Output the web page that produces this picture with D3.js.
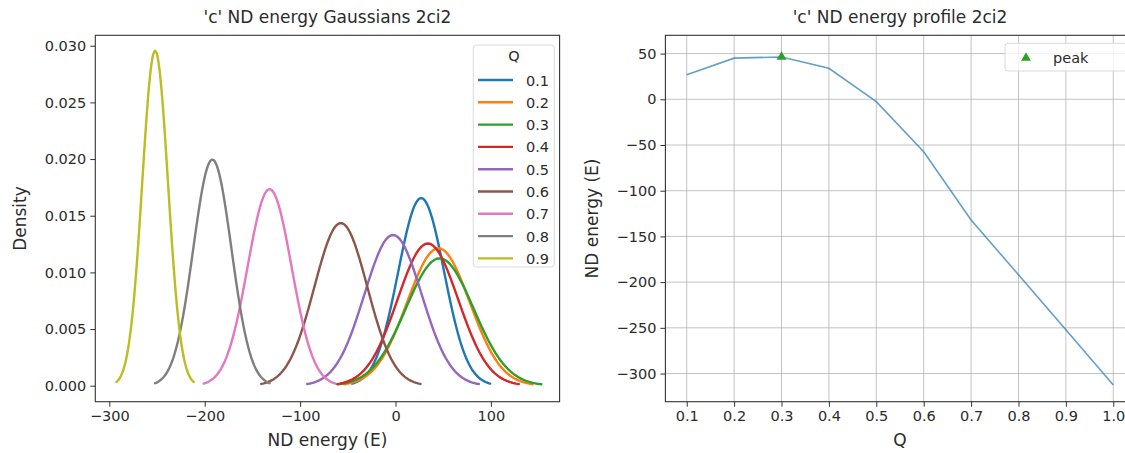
<!DOCTYPE html>
<meta charset="utf-8">
<html>
<head>
  <title>ND energy 2ci2</title>
  <style>
    body { margin: 0; background: #fff; }
    text { font-family: "DejaVu Sans", sans-serif; fill: #2b2b2b; }
  </style>
</head>
<body>
  <script src="https://d3js.org/d3.v7.js"></script>
  <div id="chart"></div>
  <script>
    // Q values that have a gaussian (legend entries)
    var qLabels = ["0.1", "0.2", "0.3", "0.4", "0.5", "0.6", "0.7", "0.8", "0.9"];
    var means = [26.9, 45.0, 46.3, 33.9, -2.6, -57.3, -132.0, -192.0, -252.0];
    var sigmas = [24.1, 32.9, 35.5, 31.8, 30.0, 27.8, 23.0, 20.0, 13.5];
    var colors = ["#1f77b4", "#ff7f0e", "#2ca02c", "#d62728", "#9467bd",
                  "#8c564b", "#e377c2", "#7f7f7f", "#bcbd22"];

    // energy profile (right panel)
    var profileQ = [0.1, 0.2, 0.3, 0.4, 0.5, 0.6, 0.7, 0.8, 0.9, 1.0];
    var profileE = [26.9, 45.0, 46.3, 33.9, -2.6, -57.3, -132.0, -192.0, -252.0, -312.6];
    var peakIndex = 2;

    var leftXTicks = [-300, -200, -100, 0, 100];
    var leftYTicks = [0, 0.005, 0.010, 0.015, 0.020, 0.025, 0.030];
    var rightXTicks = [0.1, 0.2, 0.3, 0.4, 0.5, 0.6, 0.7, 0.8, 0.9, 1.0];
    var rightYTicks = [50, 0, -50, -100, -150, -200, -250, -300];

    var W = 1125, H = 453;
    var svg = d3.select("#chart").append("svg")
      .attr("width", W).attr("height", H);

    var tickFont = "14.5px", labelFont = "17px", titleFont = "17px";
    var axisColor = "#333";

    function styleAxis(g) {
      g.select(".domain").remove();
      g.selectAll("line").attr("stroke", axisColor).attr("stroke-width", 1);
      g.selectAll("text").style("font-size", tickFont).attr("fill", "#333");
    }

    // ---------- left panel: gaussians ----------
    var L = { x0: 95.3, x1: 559.6, y0: 35.3, y1: 401.7 };
    var xL = d3.scaleLinear().domain([-314.7, 172]).range([L.x0, L.x1]);
    var yL = d3.scaleLinear().domain([-0.00141, 0.03092]).range([L.y1, L.y0]);

    function gaussian(mu, s) {
      var pts = [];
      for (var i = 0; i <= 120; i++) {
        var x = mu - 3 * s + 6 * s * i / 120;
        var y = Math.exp(-0.5 * Math.pow((x - mu) / s, 2)) / (s * Math.sqrt(2 * Math.PI));
        pts.push([x, y]);
      }
      return pts;
    }

    var lineL = d3.line().x(d => xL(d[0])).y(d => yL(d[1]));
    var gl = svg.append("g");
    qLabels.forEach(function (q, i) {
      gl.append("path")
        .attr("d", lineL(gaussian(means[i], sigmas[i])))
        .attr("fill", "none")
        .attr("stroke", colors[i])
        .attr("stroke-width", 2.4)
        .attr("stroke-linejoin", "round")
        .attr("stroke-linecap", "round");
    });

    svg.append("g")
      .attr("transform", "translate(0," + L.y1 + ")")
      .call(d3.axisBottom(xL).tickValues(leftXTicks).tickSize(5).tickPadding(4)
        .tickFormat(d => d3.format("d")(d).replace("-", "\u2212")))
      .call(styleAxis);
    svg.append("g")
      .attr("transform", "translate(" + L.x0 + ",0)")
      .call(d3.axisLeft(yL).tickValues(leftYTicks).tickSize(5).tickPadding(4)
        .tickFormat(d3.format(".3f")))
      .call(styleAxis);

    svg.append("rect")
      .attr("x", L.x0).attr("y", L.y0)
      .attr("width", L.x1 - L.x0).attr("height", L.y1 - L.y0)
      .attr("fill", "none").attr("stroke", axisColor).attr("stroke-width", 1.1);

    svg.append("text").attr("x", (L.x0 + L.x1) / 2).attr("y", 23)
      .attr("text-anchor", "middle").style("font-size", titleFont)
      .text("'c' ND energy Gaussians 2ci2");
    svg.append("text").attr("x", (L.x0 + L.x1) / 2).attr("y", 446)
      .attr("text-anchor", "middle").style("font-size", labelFont)
      .text("ND energy (E)");
    svg.append("text")
      .attr("transform", "translate(26," + (L.y0 + L.y1) / 2 + ") rotate(-90)")
      .attr("text-anchor", "middle").style("font-size", labelFont)
      .text("Density");

    // legend
    var lg = svg.append("g");
    lg.append("rect")
      .attr("x", 473.3).attr("y", 45).attr("width", 81).attr("height", 222)
      .attr("rx", 3).attr("fill", "#fff").attr("fill-opacity", 0.8)
      .attr("stroke", "#d9d9d9");
    lg.append("text").attr("x", 514).attr("y", 61)
      .attr("text-anchor", "middle").style("font-size", tickFont).text("Q");
    qLabels.forEach(function (q, i) {
      var yy = 80 + i * 22.3;
      lg.append("line").attr("x1", 478).attr("x2", 513)
        .attr("y1", yy).attr("y2", yy)
        .attr("stroke", colors[i]).attr("stroke-width", 2.4);
      lg.append("text").attr("x", 526).attr("y", yy + 5.5)
        .style("font-size", tickFont).text(q);
    });

    // ---------- right panel: energy profile ----------
    var R = { x0: 665.4, x1: 1134.6, y0: 35.3, y1: 401.7 };
    var xR = d3.scaleLinear().domain([0.055, 1.045]).range([R.x0, R.x1]);
    var yR = d3.scaleLinear().domain([-330.8, 70]).range([R.y1, R.y0]);

    var grid = svg.append("g");
    rightXTicks.forEach(function (t) {
      grid.append("line").attr("x1", xR(t)).attr("x2", xR(t))
        .attr("y1", R.y0).attr("y2", R.y1)
        .attr("stroke", "#b0b0b0").attr("stroke-opacity", 0.75).attr("stroke-width", 1);
    });
    rightYTicks.forEach(function (t) {
      grid.append("line").attr("x1", R.x0).attr("x2", R.x1)
        .attr("y1", yR(t)).attr("y2", yR(t))
        .attr("stroke", "#b0b0b0").attr("stroke-opacity", 0.75).attr("stroke-width", 1);
    });

    var lineR = d3.line().x((d, i) => xR(profileQ[i])).y(d => yR(d));
    svg.append("path")
      .attr("d", lineR(profileE))
      .attr("fill", "none")
      .attr("stroke", "#1f77b4").attr("stroke-opacity", 0.7)
      .attr("stroke-width", 1.6);

    var tri = d3.symbol().type(d3.symbolTriangle).size(42);
    svg.append("path")
      .attr("d", tri())
      .attr("transform", "translate(" + xR(profileQ[peakIndex]) + "," + yR(profileE[peakIndex]) + ")")
      .attr("fill", "#2ca02c");

    svg.append("g")
      .attr("transform", "translate(0," + R.y1 + ")")
      .call(d3.axisBottom(xR).tickValues(rightXTicks).tickSize(5).tickPadding(4)
        .tickFormat(d3.format(".1f")))
      .call(styleAxis);
    svg.append("g")
      .attr("transform", "translate(" + R.x0 + ",0)")
      .call(d3.axisLeft(yR).tickValues(rightYTicks).tickSize(5).tickPadding(4)
        .tickFormat(d => d3.format("d")(d).replace("-", "\u2212")))
      .call(styleAxis);

    svg.append("rect")
      .attr("x", R.x0).attr("y", R.y0)
      .attr("width", R.x1 - R.x0).attr("height", R.y1 - R.y0)
      .attr("fill", "none").attr("stroke", axisColor).attr("stroke-width", 1.1);

    svg.append("text").attr("x", (R.x0 + R.x1) / 2).attr("y", 23)
      .attr("text-anchor", "middle").style("font-size", titleFont)
      .text("'c' ND energy profile 2ci2");
    svg.append("text").attr("x", (R.x0 + R.x1) / 2).attr("y", 446)
      .attr("text-anchor", "middle").style("font-size", labelFont)
      .text("Q");
    svg.append("text")
      .attr("transform", "translate(598," + (R.y0 + R.y1) / 2 + ") rotate(-90)")
      .attr("text-anchor", "middle").style("font-size", labelFont)
      .text("ND energy (E)");

    // peak legend
    var pl = svg.append("g");
    pl.append("rect")
      .attr("x", 1005).attr("y", 43.3).attr("width", 140).attr("height", 27.7)
      .attr("rx", 3).attr("fill", "#fff").attr("fill-opacity", 0.8)
      .attr("stroke", "#d9d9d9");
    pl.append("path").attr("d", tri())
      .attr("transform", "translate(1026,58)").attr("fill", "#2ca02c");
    pl.append("text").attr("x", 1053).attr("y", 62.5)
      .style("font-size", tickFont).text("peak");
  </script>
</body>
</html>
